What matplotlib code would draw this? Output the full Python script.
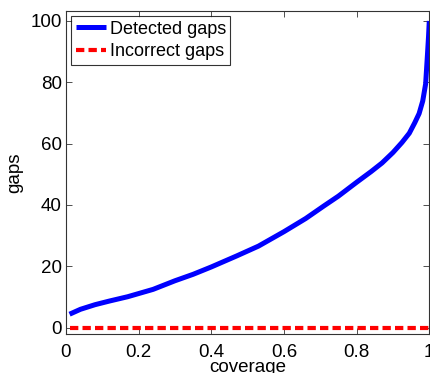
import matplotlib
matplotlib.use("Agg")
import matplotlib.pyplot as plt

plt.rcParams['font.family'] = ['Liberation Sans', 'DejaVu Sans']

# values
coverage = [0.01, 0.04, 0.08, 0.12, 0.17, 0.24, 0.3, 0.35, 0.4, 0.47,
            0.53, 0.6, 0.66, 0.71, 0.75, 0.8, 0.84, 0.87, 0.9, 0.925,
            0.945, 0.96, 0.972, 0.982, 0.99, 0.995, 0.998, 1.0]
detected = [4.4, 6.0, 7.5, 8.7, 10.1, 12.5, 15.3, 17.4, 19.8, 23.4,
            26.6, 31.3, 35.6, 39.7, 42.9, 47.4, 50.9, 53.7, 57.1, 60.4,
            63.4, 66.8, 69.8, 73.9, 79.5, 89.0, 95.0, 100.0]
incorrect_x = [0.01, 1.0]
incorrect = [0, 0]

xticks = [0, 0.2, 0.4, 0.6, 0.8, 1]
xticklabels = ['0', '0.2', '0.4', '0.6', '0.8', '1']
yticks = [0, 20, 40, 60, 80, 100]

fig = plt.figure(figsize=(4.31, 3.73), dpi=100)
ax = fig.add_axes([0.153, 0.105, 0.843, 0.866])

ax.plot(coverage, detected, color='#0000ff', lw=3.6, label='Detected gaps',
        solid_capstyle='butt', solid_joinstyle='round')
ax.plot(incorrect_x, incorrect, color='#ff0000', lw=3.0, dashes=(2, 1),
        label='Incorrect gaps', dash_capstyle='butt')

ax.set_xlim(0, 1)
ax.set_ylim(-2, 103.3)
ax.set_xticks(xticks)
ax.set_xticklabels(xticklabels)
ax.set_yticks(yticks)
ax.tick_params(direction='in', top=True, right=True, labelsize=13.5,
               length=4, width=0.6, colors='#333333', labelcolor='black')
ax.tick_params(axis='x', pad=7)
ax.tick_params(axis='y', pad=3)
for s in ax.spines.values():
    s.set_linewidth(0.8)
    s.set_color('#333333')

ax.set_xlabel('coverage', fontsize=13.5, labelpad=-1)
ax.set_ylabel('gaps', fontsize=13.5, labelpad=5)

leg = ax.legend(loc='upper left', fontsize=13, frameon=True, fancybox=False,
                handlelength=1.65, handletextpad=0.22, borderpad=0.25,
                labelspacing=0.3, borderaxespad=0.3)
leg.get_frame().set_edgecolor('black')
leg.get_frame().set_linewidth(0.8)

fig.savefig('out.png', dpi=100)
